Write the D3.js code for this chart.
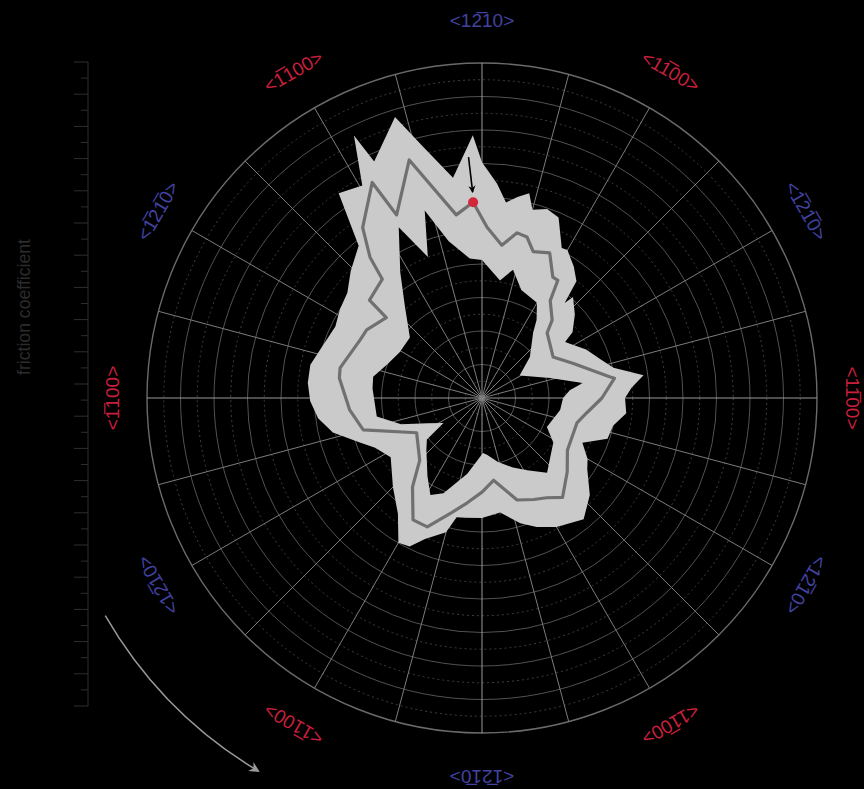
<!DOCTYPE html>
<html>
<head>
<meta charset="utf-8">
<script src="https://cdn.jsdelivr.net/npm/d3@7"></script>
<style>
  html, body { margin: 0; padding: 0; background: #000; }
  svg { display: block; }
</style>
</head>
<body>
<svg id="chart" width="864" height="789"></svg>
<script>
// Friction coefficient versus sliding direction (degrees clockwise from <1210>).
// Upper bound of the scatter band
const outerAngles = [0, 4, 7, 10, 13, 15, 19, 23, 28, 30, 35, 39, 41, 42, 48, 54, 56, 65, 72, 77, 82, 86, 90, 96, 102, 108, 114, 120, 124, 132, 140, 150, 157, 163, 171, 180, 188, 192, 195, 202, 206, 210, 216, 225, 237, 245, 250, 257, 263, 269, 275, 281, 288, 296, 302, 308, 314, 321, 325, 330.6, 334, 335.5, 342.8, 346.8, 352.5, 358];
const outerValues = [0.704, 0.642, 0.588, 0.609, 0.627, 0.582, 0.597, 0.585, 0.507, 0.510, 0.478, 0.448, 0.376, 0.406, 0.373, 0.334, 0.299, 0.343, 0.373, 0.403, 0.487, 0.448, 0.427, 0.433, 0.400, 0.394, 0.328, 0.364, 0.379, 0.433, 0.472, 0.445, 0.418, 0.391, 0.346, 0.358, 0.361, 0.364, 0.415, 0.454, 0.493, 0.499, 0.427, 0.376, 0.325, 0.352, 0.388, 0.457, 0.493, 0.513, 0.522, 0.522, 0.501, 0.487, 0.500, 0.510, 0.545, 0.585, 0.746, 0.728, 0.872, 0.776, 0.878, 0.770, 0.663, 0.785];

// Mean friction coefficient
const meanAngles = [1.7, 7.4, 12, 15.6, 19.3, 25, 30.4, 32.8, 35, 42, 45, 60, 69, 80.7, 81.5, 90, 98, 104.7, 121.5, 131, 141, 147, 153, 161, 172, 180, 188, 195, 203, 209.5, 218, 225, 242, 255, 265, 278, 282, 295.5, 300.6, 310, 311, 320, 321.5, 325, 333, 335, 343, 352, 357.4];
const meanValues = [0.510, 0.460, 0.504, 0.499, 0.463, 0.478, 0.418, 0.418, 0.355, 0.313, 0.275, 0.245, 0.290, 0.388, 0.400, 0.358, 0.316, 0.293, 0.299, 0.337, 0.382, 0.355, 0.340, 0.322, 0.248, 0.281, 0.316, 0.355, 0.418, 0.418, 0.337, 0.263, 0.221, 0.367, 0.397, 0.430, 0.433, 0.403, 0.400, 0.373, 0.445, 0.463, 0.537, 0.621, 0.722, 0.603, 0.743, 0.552, 0.585];

// Lower bound of the scatter band
const innerAngles = [0, 8.7, 13.6, 20, 30, 35, 38, 49.5, 59, 73.6, 81.5, 85, 90, 98.7, 114, 122, 139, 148, 156, 166, 175, 179, 191, 202, 208, 215, 227, 233, 237, 245, 252, 260, 275, 281, 290, 299, 310, 320, 327, 334, 339, 343, 348, 355];
const innerValues = [0.412, 0.355, 0.394, 0.343, 0.328, 0.284, 0.248, 0.188, 0.131, 0.212, 0.304, 0.263, 0.242, 0.236, 0.212, 0.251, 0.296, 0.254, 0.227, 0.197, 0.170, 0.164, 0.230, 0.307, 0.328, 0.284, 0.227, 0.206, 0.137, 0.179, 0.254, 0.319, 0.328, 0.331, 0.299, 0.281, 0.281, 0.358, 0.448, 0.567, 0.451, 0.585, 0.478, 0.418];

// Highlighted measurement
const markAngle = 357.4;
const markValue = 0.585;

// Crystallographic directions around the rim
const labelAngles = [0, 30, 60, 90, 120, 150, 180, 210, 240, 270, 300, 330];
const labelTexts = [
  "<12\u030510>", "<11\u030500>", "<1\u030521\u03050>", "<11\u030500>",
  "<12\u030510>", "<11\u030500>", "<1\u030521\u03050>", "<1\u0305100>",
  "<12\u030510>", "<1\u0305100>", "<1\u030521\u03050>", "<1\u0305100>"
];
const labelFamilies = ["a", "m", "a", "m", "a", "m", "a", "m", "a", "m", "a", "m"];

// Radial grid
const ringValues = d3.range(1, 21).map(i => i / 20);
const spokeAngles = d3.range(0, 360, 15);
const rulerTicks = d3.range(0, 41);

const W = 864, H = 789;
const cx = 482, cy = 398, R = 335;
const rad = d => d * Math.PI / 180;

const svg = d3.select("#chart");
svg.append("rect").attr("width", W).attr("height", H).attr("fill", "#000");

const defs = svg.append("defs");
defs.append("marker").attr("id", "headBlack")
  .attr("viewBox", "0 0 10 10").attr("refX", 9).attr("refY", 5)
  .attr("markerWidth", 4.5).attr("markerHeight", 5.5).attr("orient", "auto")
  .attr("markerUnits", "strokeWidth")
  .append("path").attr("d", "M0,0 L10,5 L0,10 L3,5 Z").attr("fill", "#000");
defs.append("marker").attr("id", "headGrey")
  .attr("viewBox", "0 0 10 10").attr("refX", 8).attr("refY", 5)
  .attr("markerWidth", 9).attr("markerHeight", 7).attr("orient", "auto")
  .attr("markerUnits", "strokeWidth")
  .append("path").attr("d", "M0,0 L10,5 L0,10 L3,5 Z").attr("fill", "#9a9a9a");

const r = d3.scaleLinear().domain([0, 1]).range([0, R]);
const g = svg.append("g").attr("transform", `translate(${cx},${cy})`);

// rings: solid every other one, dotted between
g.append("g").selectAll("circle").data(ringValues).join("circle")
  .attr("r", d => r(d))
  .attr("fill", "none")
  .attr("stroke", (d, i) => i === ringValues.length - 1 ? "#6a6a6a" : (i % 2 === 1 ? "#525252" : "#404040"))
  .attr("stroke-width", (d, i) => i === ringValues.length - 1 ? 1.4 : 1)
  .attr("stroke-dasharray", (d, i) => i % 2 === 1 ? null : "2,3");

// spokes
g.append("g").selectAll("line").data(spokeAngles).join("line")
  .attr("x1", 0).attr("y1", 0)
  .attr("x2", d => r(1) * Math.sin(rad(d)))
  .attr("y2", d => -r(1) * Math.cos(rad(d)))
  .attr("stroke", d => d % 90 === 0 ? "#9a9a9a" : "#7c7c7c")
  .attr("stroke-width", 1);

// scatter band (outer minus inner)
const radial = d3.lineRadial().curve(d3.curveLinearClosed);
const toPts = (angles, vals) => angles.map((a, i) => [rad(a), r(vals[i])]);
g.append("path")
  .attr("d", radial(toPts(outerAngles, outerValues)) + radial(toPts(innerAngles, innerValues)))
  .attr("fill", "#cacaca")
  .attr("fill-rule", "evenodd");

// mean curve
g.append("path")
  .attr("d", radial(toPts(meanAngles, meanValues)))
  .attr("fill", "none")
  .attr("stroke", "#707070")
  .attr("stroke-width", 3.2)
  .attr("stroke-linejoin", "round");

// highlighted point with pointer
const px = r(markValue) * Math.sin(rad(markAngle));
const py = -r(markValue) * Math.cos(rad(markAngle));
const a0 = rad(markAngle - 0.6);
g.append("line")
  .attr("x1", r(0.72) * Math.sin(a0)).attr("y1", -r(0.72) * Math.cos(a0))
  .attr("x2", r(0.615) * Math.sin(rad(markAngle))).attr("y2", -r(0.615) * Math.cos(rad(markAngle)))
  .attr("stroke", "#000").attr("stroke-width", 1.6)
  .attr("marker-end", "url(#headBlack)");
g.append("circle").attr("cx", px).attr("cy", py).attr("r", 5).attr("fill", "#d3263a");

// direction labels, set slightly further out along the vertical axis
const labelR = d => 370 + 8 * Math.abs(Math.cos(rad(d)));
g.append("g").selectAll("text").data(labelAngles).join("text")
  .attr("transform", d => `translate(${labelR(d) * Math.sin(rad(d))},${-labelR(d) * Math.cos(rad(d))}) rotate(${d})`)
  .attr("text-anchor", "middle")
  .attr("dominant-baseline", "central")
  .attr("font-family", "'Liberation Sans', Arial, sans-serif")
  .attr("font-size", 19)
  .attr("fill", (d, i) => labelFamilies[i] === "a" ? "#4242a0" : "#c81f3c")
  .text((d, i) => labelTexts[i]);

// friction coefficient ruler
const ry = d3.scaleLinear().domain([0, 40]).range([62, 706]);
const ruler = svg.append("g");
ruler.append("line").attr("x1", 88).attr("x2", 88).attr("y1", ry(0)).attr("y2", ry(40))
  .attr("stroke", "#2e2e2e").attr("stroke-width", 1);
ruler.selectAll("line.tick").data(rulerTicks).join("line").attr("class", "tick")
  .attr("x1", d => d % 2 === 0 ? 74 : 81).attr("x2", 88)
  .attr("y1", d => ry(d)).attr("y2", d => ry(d))
  .attr("stroke", "#2e2e2e").attr("stroke-width", 1);
svg.append("text")
  .attr("transform", "translate(23,307) rotate(-90)")
  .attr("text-anchor", "middle")
  .attr("dominant-baseline", "central")
  .attr("font-family", "'Liberation Sans', Arial, sans-serif")
  .attr("font-size", 19)
  .attr("textLength", 136)
  .attr("lengthAdjust", "spacingAndGlyphs")
  .attr("fill", "#2c2c2c")
  .text("friction coefficient");

// sense of rotation
const arc = d3.path();
arc.arc(cx, cy, 435, rad(240 - 90), rad(211 - 90), true);
svg.append("path").attr("d", arc.toString())
  .attr("fill", "none").attr("stroke", "#9a9a9a").attr("stroke-width", 1.5)
  .attr("marker-end", "url(#headGrey)");
</script>
</body>
</html>
